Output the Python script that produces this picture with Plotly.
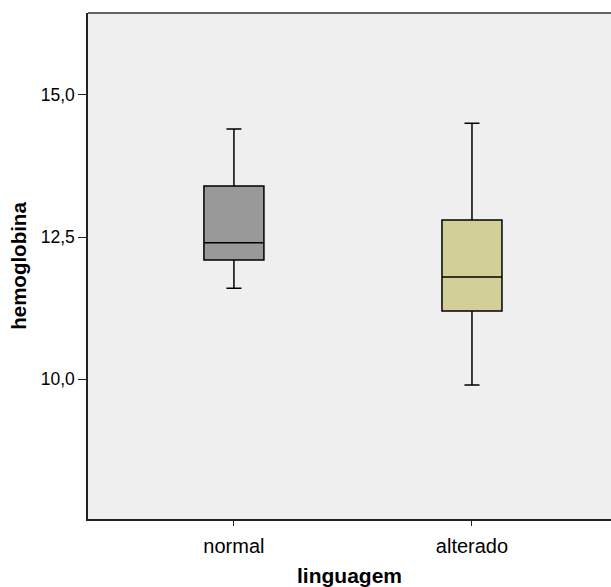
import plotly.graph_objects as go

categories = ["normal", "alterado"]
lower_whisker = [11.6, 9.9]
q1_values = [12.1, 11.2]
median_values = [12.4, 11.8]
q3_values = [13.4, 12.8]
upper_whisker = [14.4, 14.5]
fill_colors = ["#999999", "#D3CF98"]

y_ticks = [10.0, 12.5, 15.0]

fig = go.Figure()
for i, cat in enumerate(categories):
    fig.add_trace(go.Box(
        x=[cat],
        q1=[q1_values[i]],
        median=[median_values[i]],
        q3=[q3_values[i]],
        lowerfence=[lower_whisker[i]],
        upperfence=[upper_whisker[i]],
        fillcolor=fill_colors[i],
        line=dict(color="black", width=1.5),
        width=0.252,
        whiskerwidth=0.25,
        boxpoints=False,
        hoverinfo="skip",
        showlegend=False,
    ))

font_family = "Arial, Liberation Sans, sans-serif"
fig.update_layout(
    width=611, height=587,
    margin=dict(l=88, r=0, t=13, b=68),
    paper_bgcolor="white",
    plot_bgcolor="#EFEFEF",
    separators=",.",
    font=dict(family=font_family, size=17, color="black"),
    xaxis=dict(
        type="category",
        categoryorder="array", categoryarray=categories,
        range=[-0.613, 1.584],
        showline=True, linecolor="#222222", linewidth=1.5,
        ticks="outside", ticklen=5, tickcolor="#222222",
        ticklabelstandoff=3,
        showgrid=False, zeroline=False,
        tickfont=dict(size=20),
        title=dict(text="<b>linguagem</b>", font=dict(size=21), standoff=13),
    ),
    yaxis=dict(
        range=[7.545, 16.44],
        tickvals=y_ticks, tickformat=".1f",
        showline=True, linecolor="#222222", linewidth=1.5,
        ticks="outside", ticklen=8, tickcolor="#222222",
        showgrid=False, zeroline=False,
        tickfont=dict(size=17.5),
        title=dict(text="<b>hemoglobina</b>", font=dict(size=20.5), standoff=9),
    ),
    shapes=[dict(type="line", xref="paper", yref="paper", x0=0, x1=1, y0=1, y1=1,
                 line=dict(color="#333333", width=1.5), layer="above")],
)

fig.write_html(
    "out.html",
    config={"displayModeBar": False},
    post_script="document.body.style.margin='0';document.body.style.overflow='hidden';",
)
